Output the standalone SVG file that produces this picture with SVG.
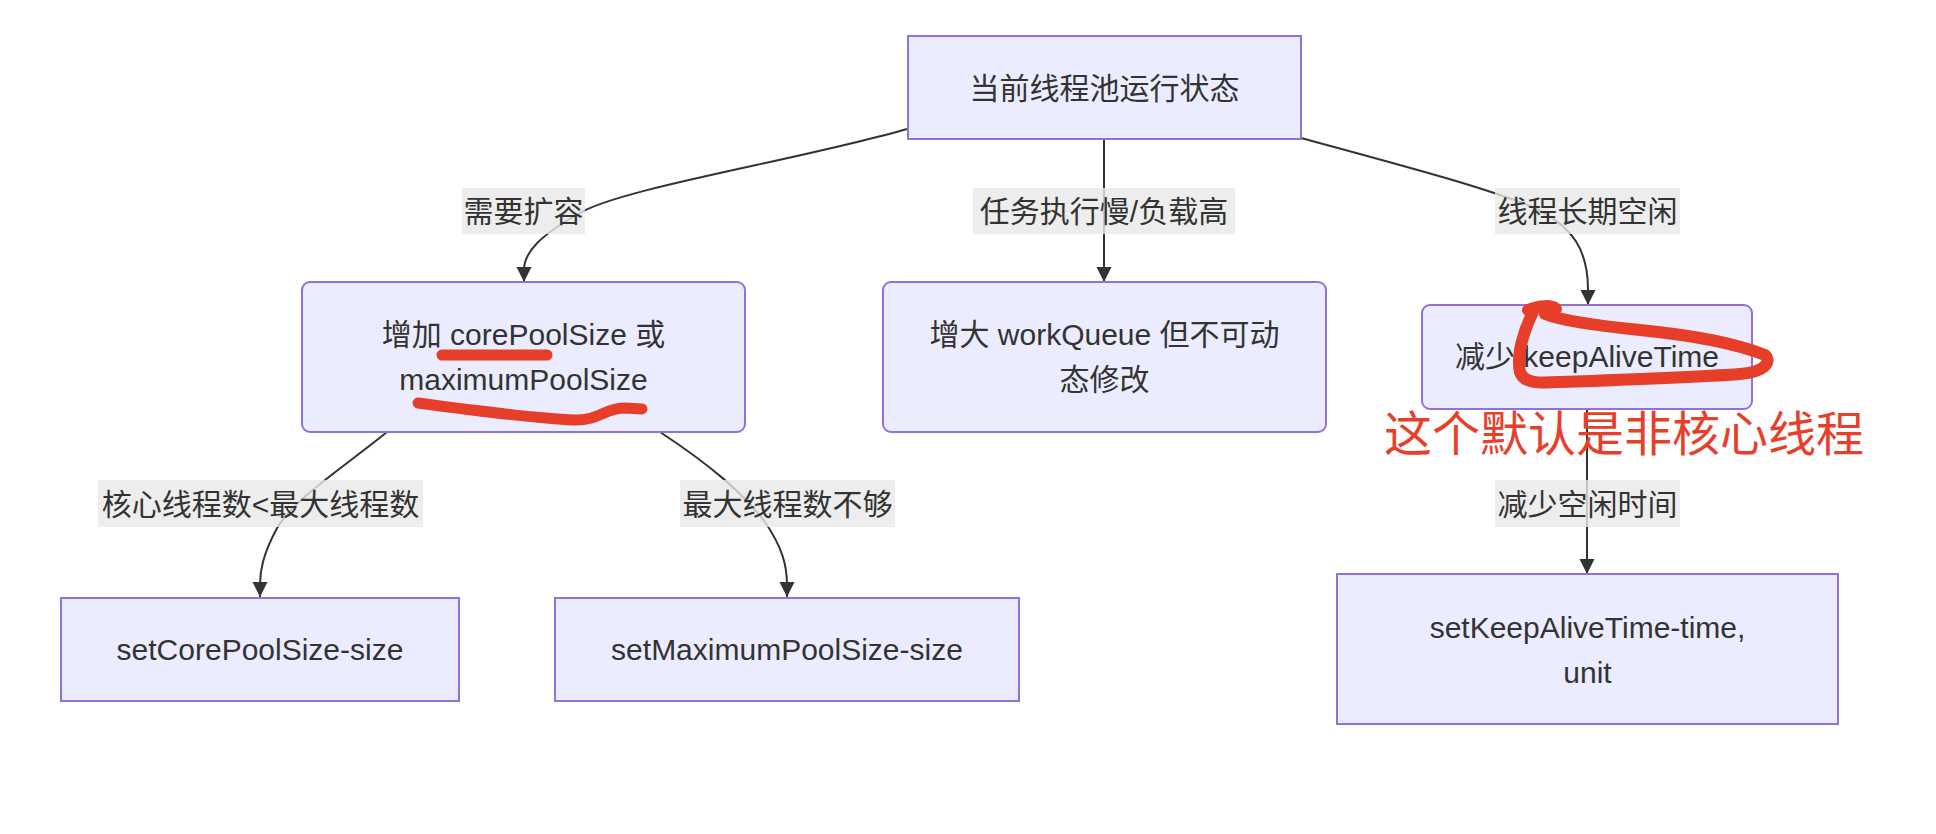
<svg xmlns="http://www.w3.org/2000/svg" width="1936" height="834" viewBox="0 0 1936 834">
<defs>
<marker id="arrow" markerUnits="userSpaceOnUse" markerWidth="16" markerHeight="16" refX="15" refY="7.5" orient="auto">
<path d="M0,0 L15,7.5 L0,15 z" fill="#333333"/>
</marker>
<style>
.node rect{fill:#ECECFF;stroke:#9370DB;stroke-width:2}
.node text,.label text{font-family:"Liberation Sans","Noto Sans CJK SC",sans-serif;font-size:30px;fill:#333333;text-anchor:middle}
.edge{fill:none;stroke:#333333;stroke-width:2;marker-end:url(#arrow)}
.label rect{fill:rgba(232,232,232,0.8)}
.ink{fill:none;stroke:#E63E28;stroke-linecap:round;stroke-linejoin:round}
.note{font-family:"Noto Sans CJK SC",sans-serif;font-size:48px;fill:#E83F2A}
</style>
</defs>
<rect width="1936" height="834" fill="#ffffff"/>
<g id="connectors">
<path class="edge" d="M907,129 C800,160 620,188 578,214 C540,236 524,252 524,270 L524,282"/>
<path class="edge" d="M1104,139 L1104,282"/>
<path class="edge" d="M1301,138 C1400,165 1480,186 1530,206 C1575,226 1588,252 1588,290 L1588,305"/>
<path class="edge" d="M387,432 C340,470 292,500 276,530 C263,555 260,570 260,585 L260,597"/>
<path class="edge" d="M660,432 C710,465 742,492 765,522 C782,547 787,565 787,585 L787,597"/>
<path class="edge" d="M1587,409 L1587,574"/>
</g>
<g id="edge-labels">
<g class="label"><rect x="462" y="188" width="123" height="46"/><text x="523.5" y="222">需要扩容</text></g>
<g class="label"><rect x="973" y="188" width="262" height="46"/><text x="1104" y="222">任务执行慢/负载高</text></g>
<g class="label"><rect x="1495" y="188" width="185" height="46"/><text x="1587.5" y="222">线程长期空闲</text></g>
<g class="label"><rect x="98" y="480" width="325" height="47"/><text x="260.5" y="515">核心线程数&lt;最大线程数</text></g>
<g class="label"><rect x="680" y="480" width="215" height="47"/><text x="787.5" y="515">最大线程数不够</text></g>
<g class="label"><rect x="1495" y="480" width="185" height="47"/><text x="1587.5" y="515">减少空闲时间</text></g>
</g>
<g id="node-state" class="node"><rect x="908" y="36" width="393" height="103"/><text x="1104.5" y="99">当前线程池运行状态</text></g>
<g id="node-expand" class="node"><rect x="302" y="282" width="443" height="150" rx="8" ry="8"/><text x="523.5" y="345">增加 corePoolSize 或</text><text x="523.5" y="390">maximumPoolSize</text></g>
<g id="node-queue" class="node"><rect x="883" y="282" width="443" height="150" rx="8" ry="8"/><text x="1104.5" y="345">增大 workQueue 但不可动</text><text x="1104.5" y="390">态修改</text></g>
<g id="node-keepalive" class="node"><rect x="1422" y="305" width="330" height="104" rx="8" ry="8"/><text x="1587" y="367">减少 keepAliveTime</text></g>
<g id="node-core" class="node"><rect x="61" y="598" width="398" height="103"/><text x="260" y="660">setCorePoolSize-size</text></g>
<g id="node-max" class="node"><rect x="555" y="598" width="464" height="103"/><text x="787" y="660">setMaximumPoolSize-size</text></g>
<g id="node-settime" class="node"><rect x="1337" y="574" width="501" height="150"/><text x="1587.5" y="638">setKeepAliveTime-time,</text><text x="1587.5" y="683">unit</text></g>
<g id="annotations">
<path class="ink" stroke-width="11" d="M442,355 L547,355"/>
<path class="ink" stroke-width="11" d="M418,403 C470,410 530,418 575,420 C600,420 605,408 625,408 L642,409"/>
<path class="ink" stroke-width="12" d="M1533,312 C1524,330 1516,355 1520,372 C1524,384 1540,383 1560,382 C1620,380 1700,377 1740,374 C1765,372 1772,362 1765,355 C1740,345 1700,336 1640,330 C1600,326 1560,320 1545,314"/>
<path class="ink" stroke-width="12" d="M1528,310 C1540,305 1552,305 1556,309"/>
<text class="note" x="1384" y="451">这个默认是非核心线程</text>
</g>
</svg>
